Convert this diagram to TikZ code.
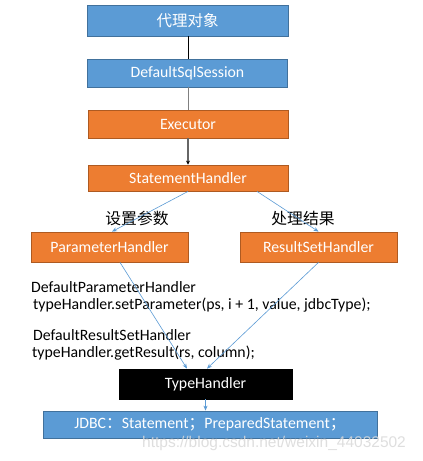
\documentclass[tikz,border=0pt]{standalone}
\usepackage{fontspec}
\setmainfont{Carlito}
\newfontfamily\cjk{Noto Sans CJK SC}
\newfontfamily\wmfont{Liberation Sans}
\usetikzlibrary{arrows.meta}
\definecolor{bluefill}{HTML}{5B9BD5}
\definecolor{blueline}{HTML}{41719C}
\definecolor{orfill}{HTML}{ED7D31}
\definecolor{orline}{HTML}{AE5A21}
\definecolor{conn}{HTML}{5B9BD5}
\begin{document}
\begin{tikzpicture}[x=1pt,y=-1pt,
  box/.style={draw, line width=0.8pt, inner sep=0pt, text=white, font=\fontsize{15.8}{18}\selectfont},
  bluebox/.style={box, fill=bluefill, draw=blueline},
  orbox/.style={box, fill=orfill, draw=orline},
  blackbox/.style={box, fill=black, draw=black},
  conline/.style={draw=conn, line width=0.6pt, -{Stealth[length=5pt,width=4pt]}},
  lbl/.style={font=\cjk\fontsize{15.8}{18}\selectfont, inner sep=0pt},
  code/.style={font=\fontsize{15.8}{18}\selectfont, inner sep=0pt, anchor=west}]
\fill[white] (0,0) rectangle (423,461);
\useasboundingbox (0,0) rectangle (423,461);
\node[bluebox, minimum width=201pt, minimum height=31pt, font=\cjk\fontsize{15.5}{17}\selectfont] (proxy) at (187.5,20.5) {代理对象};
\node[bluebox, minimum width=200pt, minimum height=28pt] (dss) at (187.5,73) {DefaultSqlSession};
\node[orbox, minimum width=200pt, minimum height=28pt] (exe) at (188,124) {Executor};
\node[orbox, minimum width=200pt, minimum height=26pt] (sh) at (188,178) {StatementHandler};
\node[orbox, minimum width=157pt, minimum height=30pt] (ph) at (109.5,247) {ParameterHandler};
\node[orbox, minimum width=157pt, minimum height=30pt] (rsh) at (318.5,247) {ResultSetHandler};
\node[blackbox, minimum width=173pt, minimum height=30pt] (th) at (205.5,384) {TypeHandler};
\node[bluebox, minimum width=334pt, minimum height=27pt] (jdbc) at (210,424.5) {JDBC{\cjk ：}Statement{\cjk ；}PreparedStatement{\cjk ；}};

\node[lbl] (l1) at (137,218) {设置参数};
\node[lbl] (l2) at (303,218) {处理结果};

\node[code] (c1) at (31,287) {DefaultParameterHandler};
\node[code] (c2) at (33,305) {typeHandler.setParameter(ps, i + 1, value, jdbcType);};
\node[code] (c3) at (33,335) {DefaultResultSetHandler};
\node[code] (c4) at (32,353) {typeHandler.getResult(rs, column);};

\draw[black, line width=0.6pt] (proxy.south -| 188,0) -- (dss.north -| 188,0);
\draw[gray, line width=0.8pt] (dss.south -| 188,0) -- (exe.north -| 188,0);
\draw[gray!80!black, line width=1.2pt, -{Stealth[length=4pt,width=4pt,black]}] (exe.south) -- (sh.north);

\coordinate (shr) at ([xshift=69pt]sh.south);
\draw[conline] (sh.south) -- ([xshift=2.5pt]ph.north);
\draw[conline] (shr) -- (rsh.north);
\draw[conline] ([xshift=10.5pt]ph.south) -- ([xshift=-18.5pt]th.north);
\draw[conline] (rsh.south) -- ([xshift=1.5pt]th.north);
\draw[conline] (th.south) -- (th.south |- jdbc.north);

\node[font=\wmfont\fontsize{15.5}{18}\selectfont, text=gray!30, opacity=0.85, anchor=west, inner sep=0pt] (wm) at (142,443) {https://blog.csdn.net/weixin\_44032502};
\end{tikzpicture}
\end{document}
